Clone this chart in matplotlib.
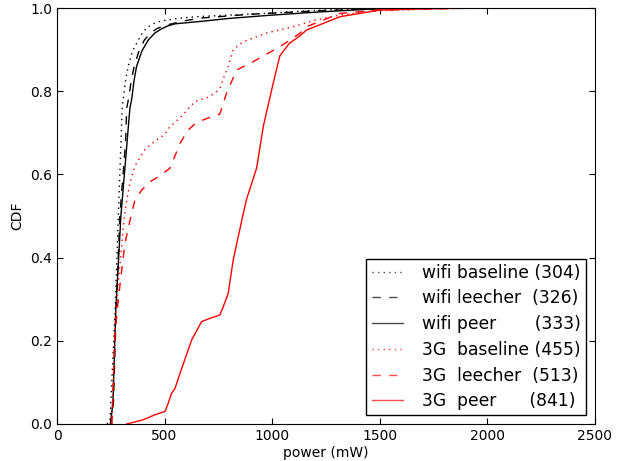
import matplotlib
matplotlib.use("Agg")
import matplotlib.pyplot as plt

wifi_base_x = [232, 246, 270, 285, 303, 308, 320, 331, 350, 378, 400, 424, 455, 486, 560, 641, 800, 1000, 1220, 1500]
wifi_base_y = [0, 0.005, 0.27, 0.5, 0.76, 0.78, 0.83, 0.86, 0.895, 0.923, 0.943, 0.955, 0.964, 0.969, 0.975, 0.979,
               0.983, 0.988, 0.995, 1.0]

wifi_leech_x = [250, 262, 275, 292, 319, 324, 332, 345, 359, 380, 406, 435, 463, 495, 533, 600, 672, 900, 1200, 1550]
wifi_leech_y = [0, 0.05, 0.27, 0.5, 0.68, 0.76, 0.78, 0.825, 0.86, 0.895, 0.923, 0.94, 0.95, 0.957, 0.962, 0.97,
                0.976, 0.985, 0.993, 1.0]

wifi_peer_x = [248, 260, 273, 297, 339, 347, 358, 370, 395, 424, 455, 486, 515, 548, 610, 672, 800, 1000, 1200,
               1450, 1600]
wifi_peer_y = [0, 0.05, 0.27, 0.5, 0.76, 0.78, 0.825, 0.86, 0.897, 0.923, 0.94, 0.95, 0.957, 0.962, 0.965, 0.968,
               0.975, 0.983, 0.99, 0.997, 1.0]

g3_base_x = [255, 273, 313, 325, 339, 362, 409, 463, 500, 517, 579, 641, 700, 734, 760, 773, 796, 819, 866,
             974, 1098, 1207, 1315, 1470, 1700, 2000]
g3_base_y = [0, 0.27, 0.5, 0.54, 0.58, 0.62, 0.66, 0.683, 0.695, 0.71, 0.74, 0.775, 0.785, 0.795, 0.81, 0.83,
             0.86, 0.9, 0.919, 0.94, 0.955, 0.972, 0.983, 0.993, 0.997, 1.0]

g3_leech_x = [255, 268, 279, 297, 316, 344, 362, 393, 432, 486, 500, 525, 541, 572, 610, 649, 700, 757, 788,
              835, 912, 1036, 1129, 1160, 1315, 1500, 1930]
g3_leech_y = [0, 0.2, 0.27, 0.354, 0.435, 0.5, 0.538, 0.562, 0.582, 0.599, 0.605, 0.615, 0.635, 0.675, 0.707,
              0.725, 0.735, 0.745, 0.795, 0.851, 0.871, 0.907, 0.939, 0.955, 0.987, 0.995, 1.0]

g3_peer_x = [324, 400, 455, 502, 517, 533, 548, 572, 626, 672, 711, 757, 773, 796, 819, 866, 881, 928, 959,
             1005, 1036, 1080, 1129, 1160, 1315, 1500, 1700, 1950]
g3_peer_y = [0, 0.01, 0.022, 0.03, 0.05, 0.074, 0.085, 0.122, 0.202, 0.246, 0.254, 0.262, 0.282, 0.314,
             0.394, 0.506, 0.54, 0.615, 0.715, 0.819, 0.885, 0.915, 0.933, 0.947, 0.979, 0.995, 0.998, 1.0]

labels = ["wifi baseline (304)", "wifi leecher  (326)", "wifi peer       (333)",
          "3G  baseline (455)", "3G  leecher  (513)", "3G  peer      (841)"]

DOT = (0, (1, 3))
DASH = (0, (6, 6))

fig = plt.figure(figsize=(6.3, 4.61), dpi=100)
ax = fig.add_axes([0.0905, 0.0803, 0.8535, 0.9023])

ax.plot(wifi_base_x, wifi_base_y, color="black", linestyle=DOT, lw=1, label=labels[0])
ax.plot(wifi_leech_x, wifi_leech_y, color="black", linestyle=DASH, lw=1, label=labels[1])
ax.plot(wifi_peer_x, wifi_peer_y, color="black", linestyle="-", lw=1, label=labels[2])
ax.plot(g3_base_x, g3_base_y, color="red", linestyle=DOT, lw=1, label=labels[3])
ax.plot(g3_leech_x, g3_leech_y, color="red", linestyle=DASH, lw=1, label=labels[4])
ax.plot(g3_peer_x, g3_peer_y, color="red", linestyle="-", lw=1, label=labels[5])

ax.set_xlim(0, 2500)
ax.set_ylim(0, 1.0)
ax.set_xticks([0, 500, 1000, 1500, 2000, 2500])
ax.set_yticks([0, 0.2, 0.4, 0.6, 0.8, 1.0])
ax.set_yticklabels(["0.0", "0.2", "0.4", "0.6", "0.8", "1.0"])
ax.tick_params(direction="in", top=True, right=True, labelsize=10, length=4)
ax.set_xlabel("power (mW)", fontsize=10, labelpad=2)
ax.set_ylabel("CDF", fontsize=10)

leg = ax.legend(loc="lower right", fontsize=12.35, fancybox=False, framealpha=1,
                handlelength=1.85, handletextpad=1.1, borderpad=0.3, labelspacing=0.45,
                borderaxespad=0.5)
leg.get_frame().set_edgecolor("black")
leg.get_frame().set_linewidth(1)
for line in leg.get_lines():
    line.set_alpha(0.7)

fig.savefig("out.png", dpi=100)
